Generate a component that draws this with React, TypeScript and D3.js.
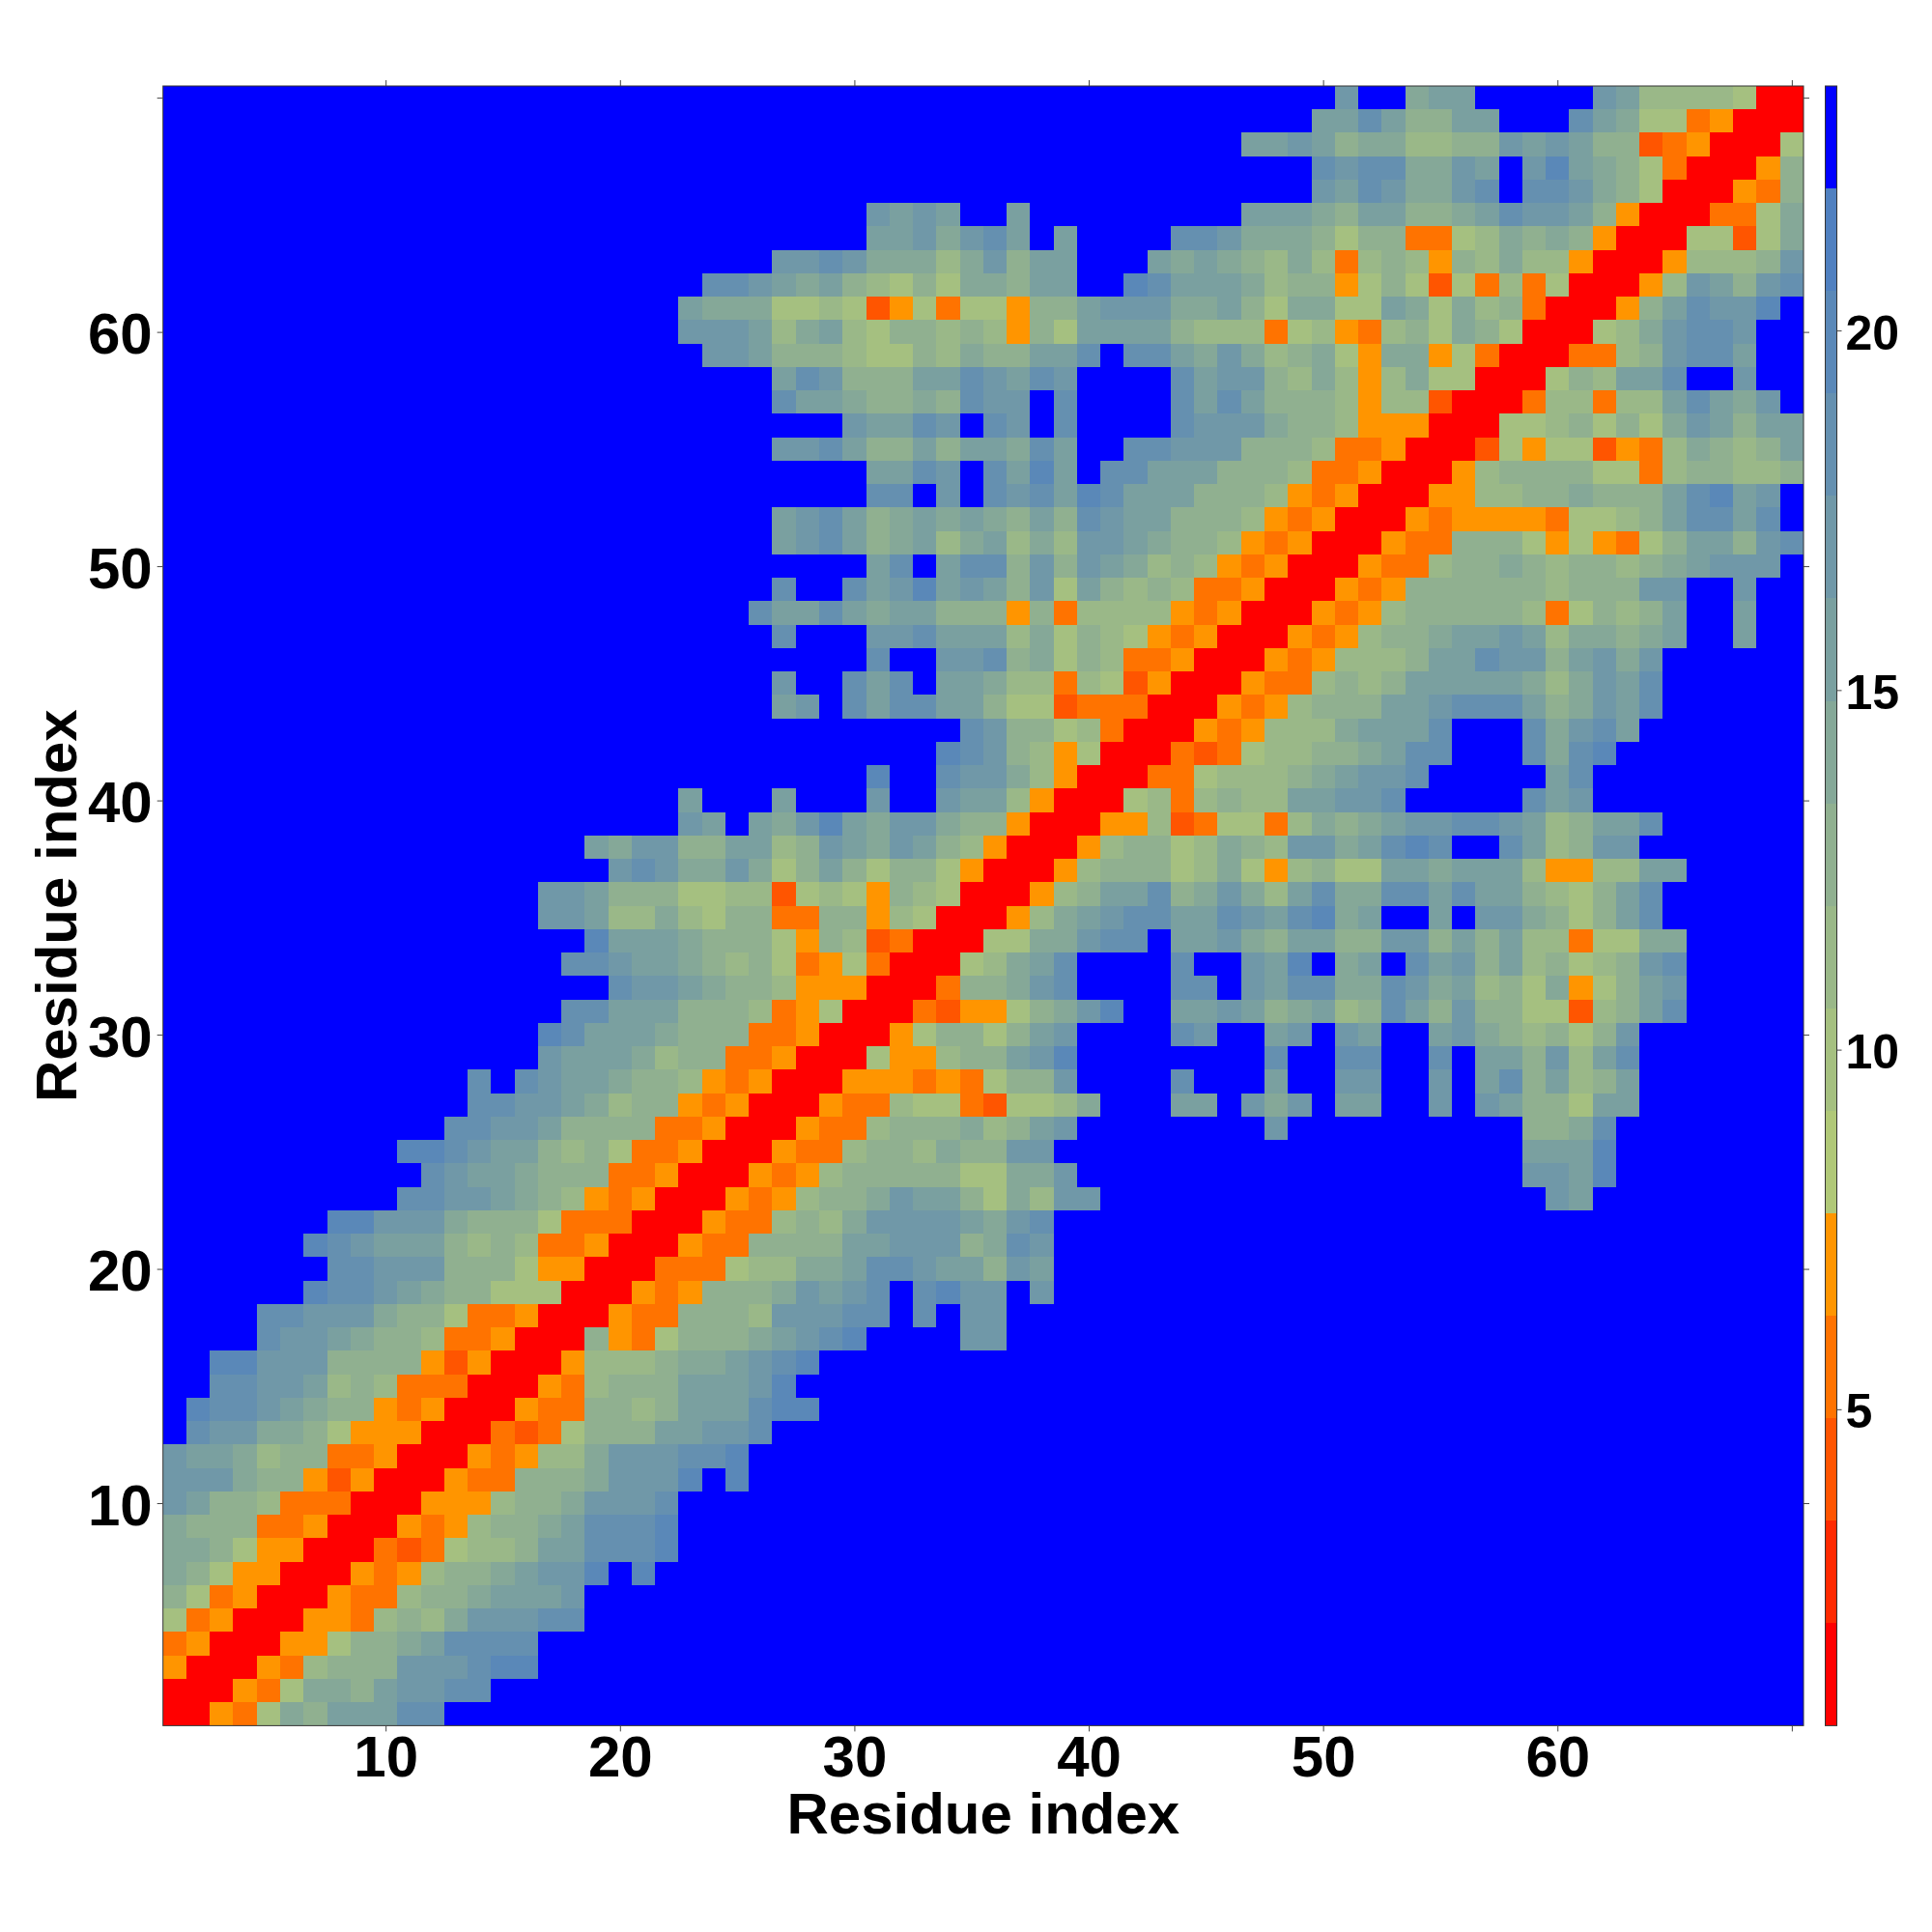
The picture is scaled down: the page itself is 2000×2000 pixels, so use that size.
import React, {useRef, useEffect} from "react";
import * as d3 from "d3";

// one string per residue on the y axis, top row (70) first. each character is
// the colour band of that cell, 0 = closest (red), f = furthest (blue)
const contactRows: string[] = [
  "ffffffffff ffffffffff ffffffffff ffffffffff ffffffffff bff9aaffff fba7777600",
  "ffffffffff ffffffffff ffffffffff ffffffffff fffffffffa aca88aafff ca96634000",
  "ffffffffff ffffffffff ffffffffff ffffffffff ffffffaaba 8997788bab a882340006",
  "ffffffffff ffffffffff ffffffffff ffffffffff fffffffffc bcc99bafbd a986300048",
  "ffffffffff ffffffffff ffffffffff ffffffffff fffffffffb acb99bcfcc b986000438",
  "ffffffffff ffffffffff ffffffffff babaffafff ffffffaaa9 8aa889acbb a840003369",
  "ffffffffff ffffffffff ffffffffff aab9bcafaf fffccb9998 6883367989 8400066269",
  "ffffffffff ffffffffff ffffffbbcb 99979b8aaf ffa9a98797 3787487977 400047778b",
  "ffffffffff ffffffffff fffccba9a8 7686998aaf fdcaaa9788 4686263736 00047ba8bc",
  "ffffffffff ffffffffff ffa9996676 246366488a bbb99a8699 66a9697830 0048acbbdf",
  "ffffffffff ffffffffff ffbbba79a7 688787486a aaa8777367 4378698600 0679bccbff",
  "ffffffffff ffffffffff fffbba8887 6687988aac fcca9b9789 6499463000 3378bccaff",
  "ffffffffff ffffffffff ffffffacb8 88aacbacbf fffcabb879 7479660006 87aacffbff",
  "ffffffffff ffffffffff ffffffcaa9 8898cbbfcf fffcaca888 7477200037 7377aca9bf",
  "ffffffffff ffffffffff fffffffffb aacbfcbfcf fffcbbb988 7444000667 86869ba8aa",
  "ffffffffff ffffffffff ffffffbbca 88a8aa9caf fccbbb8887 3340002646 624379878a",
  "ffffffffff ffffffffff ffffffffff aacbfcadaf ccaaa88873 3400047888 8663788778",
  "ffffffffff ffffffffff ffffffffff ccfbfcbcad caaa888743 4000447788 9888acdabf",
  "ffffffffff ffffffffff ffffffabca 89a9a98a8c baa8887434 0004344443 6678accacf",
  "ffffffffff ffffffffff ffffffabca 89a79a797b ba98874340 0043388864 64368aa8bc",
  "ffffffffff ffffffffff ffffffffff acfacc8b8b a978743400 0433788987 88789abbbf",
  "ffffffffff ffffffffff ffffffcffc abdaba8b6a 8787334000 4348888887 888bbffbff",
  "ffffffffff ffffffffff fffffcaaca 9aa8884837 7774340004 3478888873 6878affaff",
  "ffffffffff ffffffffff ffffffcfff bbcaaa7968 7643400043 47889aaba7 9989affaff",
  "ffffffffff ffffffffff ffffffffff cffbbc8968 7334000434 7778aacbb8 ab9bffffff",
  "ffffffffff ffffffffff ffffffbffc acfaa97737 6240004337 878aaaaa97 9bacffffff",
  "ffffffffff ffffffffff ffffffabfc accaa86623 3300043478 88aabccca8 9bacffffff",
  "ffffffffff ffffffffff ffffffffff ffffcb8867 3000434777 9aaacfffc9 bcafffffff",
  "ffffffffff ffffffffff ffffffffff fffdcb8746 0003236778 89accfffc9 cdffffffff",
  "ffffffffff ffffffffff ffffffffff dffcbb9740 0033677789 abbcfffffa cfffffffff",
  "ffffffffff ffffffffff ffafffafff bffbaa7400 06737877aa bbcfffffca bfffffffff",
  "ffffffffff ffffffffff ffbafa9bda 9bb9884000 4472366379 89abbccba7 8aacffffff",
  "ffffffffff ffffffffa9 bb88aa78ba 9ba8740004 78867987bb 9acdcffca7 8bbfffffff",
  "ffffffffff fffffffffb cb99b968a8 6886400047 8886796478 66aa9aaa74 477aafffff",
  "ffffffffff ffffffbba8 8866772676 4876000478 aac89b97ac 99ccacaa87 68acffffff",
  "ffffffffff ffffffbba7 7976883388 476000479a bccaacbacd 9affafbb98 68acffffff",
  "ffffffffff ffffffffda aa98886487 230006699b ccfaab98aa 88bb8a8a77 36699fffff",
  "ffffffffff fffffffccb aa98786346 3000679acf fffcffbadf 9afcab8a78 678bcfffff",
  "ffffffffff fffffffffc bba9887444 0003889bcf fffccfbacc 99cb9a7869 468abfffff",
  "ffffffffff fffffffcca aa88873460 003244689b dffaaba89a 78ca8b8866 278acfffff",
  "ffffffffff ffffffdcaa a988833400 0468868abf fffcbffabf baffab9878 68bfffffff",
  "ffffffffff ffffffbaaa 9788334000 644788abdf fffffffcff ccffcfaa8b 7acfffffff",
  "ffffffffff fffcfcbaa9 8874340004 44343688bf fffcfffaff bbffbfac8a 78afffffff",
  "ffffffffff fffccbba97 8843400043 3766326679 fffaafb9bf aaffbfba88 6aafffffff",
  "ffffffffff ffccbba888 8334000433 7888978abf fffffffbff ffffffff88 9cffffffff",
  "ffffffffff ddcbaa8786 3340004337 887988bbff ffffffffff ffffffffaa adffffffff",
  "ffffffffff fcbaa98883 3400043478 88886699bf ffffffffff ffffffffbb adffffffff",
  "ffffffffff ccbba98743 4000434788 9baa8697bb ffffffffff fffffffffb afffffffff",
  "fffffffddb bb98886333 0004337879 bbbba9bcff ffffffffff ffffffffff ffffffffff",
  "ffffffdcba aa87873340 004338888a abbb89cbff ffffffffff ffffffffff ffffffffff",
  "fffffffccb bb88864400 033367799a ccbaa8baff ffffffffff ffffffffff ffffffffff",
  "ffffffdccb a988666000 4348889bab cfcdbbfbff ffffffffff ffffffffff ffffffffff",
  "ffffccbbb9 8863340004 338887bbbc cfcfbbffff ffffffffff ffffffffff ffffffffff",
  "ffffcbba98 8733400084 368889abcd ffffbbffff ffffffffff ffffffffff ffffffffff",
  "ffddbbb888 8424000477 7899abcdff ffffffffff ffffffffff ffffffffff ffffffffff",
  "ffccbba787 3330004378 88aaabdfff ffffffffff ffffffffff ffffffffff ffffffffff",
  "fdccba9884 3400043388 78aaacddff ffffffffff ffffffffff ffffffffff ffffffffff",
  "fcbb998644 4000323688 8aabbcffff ffffffffff ffffffffff ffffffffff ffffffffff",
  "baa9788334 000434779b bbccdfffff ffffffffff ffffffffff ffffffffff ffffffffff",
  "bbb9884240 004338889b bbdfdfffff ffffffffff ffffffffff ffffffffff ffffffffff",
  "ba88733300 04447889bb bcffffffff ffffffffff ffffffffff ffffffffff ffffffffff",
  "9888334000 4347889acc cdffffffff ffffffffff ffffffffff ffffffffff ffffffffff",
  "9986440003 236778aacc cdffffffff ffffffffff ffffffffff ffffffffff ffffffffff",
  "9864400043 47889abbdf dfffffffff ffffffffff ffffffffff ffffffffff ffffffffff",
  "8634000433 7889aaabff ffffffffff ffffffffff ffffffffff ffffffffff ffffffffff",
  "6340004437 879bbbccff ffffffffff ffffffffff ffffffffff ffffffffff ffffffffff",
  "3400044688 9accccffff ffffffffff ffffffffff ffffffffff ffffffffff ffffffffff",
  "4000437888 bbbcddffff ffffffffff ffffffffff ffffffffff ffffffffff ffffffffff",
  "000436998a bbccffffff ffffffffff ffffffffff ffffffffff ffffffffff ffffffffff",
  "0043698aaa ccffffffff ffffffffff ffffffffff ffffffffff ffffffffff ffffffffff",
];

const bandColors = [
  "#ff0000", "#ff2a00", "#ff5500", "#ff7300", "#ff9500",
  "#b0c878", "#a5c080", "#9ab888", "#90b090", "#85a898",
  "#7aa0a0", "#7098a8", "#6590b0", "#5a88b8", "#5080c0",
  "#0000ff",
];

const residueTicks = [10, 20, 30, 40, 50, 60, 70];
const colorbarTicks = [5, 10, 15, 20];
const valueDomain = [0.6, 23.4];
const axisLabel = "Residue index";

const FONT = "'Liberation Sans', Arial, sans-serif";
const left = 168.7;
const right = 1867;
const top = 89;
const bottom = 1786.4;
const barLeft = 1889.5;
const barRight = 1901.5;

export default function App() {
  const svgRef = useRef<SVGSVGElement>(null);

  const xScale = d3.scaleLinear().domain([0.5, 70.5]).range([left, right]);
  const yScale = d3.scaleLinear().domain([0.5, 70.5]).range([bottom, top]);
  const barScale = d3.scaleLinear().domain(valueDomain).range([bottom, top]);
  const colorScale = d3.scaleQuantize<string>().domain(valueDomain).range(bandColors);
  const bandValue = (band: number) => {
    const [a, b] = colorScale.invertExtent(bandColors[band]);
    return (a + b) / 2;
  };

  const cells: {x: number; y: number; value: number}[] = [];
  contactRows.forEach((row, r) => {
    row.replace(/ /g, "").split("").forEach((ch, c) => {
      cells.push({x: c + 1, y: 70 - r, value: bandValue(parseInt(ch, 16))});
    });
  });

  useEffect(() => {
    if (!svgRef.current) return;
    const svg = d3.select(svgRef.current);

    const style = (g, withText, size = 60, dy = null) => {
      g.select(".domain").remove();
      g.selectAll("line").attr("stroke", "#444").attr("stroke-width", 1);
      if (withText) {
        const labels = g.selectAll("text")
          .attr("fill", "#000")
          .style("font-family", FONT)
          .style("font-weight", "bold")
          .style("font-size", `${size}px`)
          .text((d) => (d === 70 ? "" : d));
        if (dy) labels.attr("dy", dy);
      } else {
        g.selectAll("text").remove();
      }
    };

    svg.select(".x-bottom")
      .attr("transform", `translate(0,${bottom})`)
      .call(d3.axisBottom(xScale).tickValues(residueTicks).tickSize(6).tickPadding(4))
      .call((g) => style(g, true));
    svg.select(".x-top")
      .attr("transform", `translate(0,${top})`)
      .call(d3.axisTop(xScale).tickValues(residueTicks).tickSize(6))
      .call((g) => style(g, false));
    svg.select(".y-left")
      .attr("transform", `translate(${left},0)`)
      .call(d3.axisLeft(yScale).tickValues(residueTicks).tickSize(6).tickPadding(5))
      .call((g) => style(g, true, 60, "0.37em"));
    svg.select(".y-right")
      .attr("transform", `translate(${right},0)`)
      .call(d3.axisRight(yScale).tickValues(residueTicks).tickSize(6))
      .call((g) => style(g, false));
    svg.select(".bar-axis")
      .attr("transform", `translate(${barRight},0)`)
      .call(d3.axisRight(barScale).tickValues(colorbarTicks).tickSize(5).tickPadding(4))
      .call((g) => style(g, true, 50, "0.38em"));
  }, []);

  const bandSteps = bandColors.map((color) => ({color, extent: colorScale.invertExtent(color)}));

  return (
    <svg
      ref={svgRef}
      width={2000}
      height={2000}
      style={{position: "absolute", left: 0, top: 0, background: "#fff"}}
    >
      <g shapeRendering="crispEdges">
        {cells.map((d) => (
          <rect
            key={`${d.x}-${d.y}`}
            x={xScale(d.x - 0.5)}
            y={yScale(d.y + 0.5)}
            width={xScale(d.x + 0.5) - xScale(d.x - 0.5)}
            height={yScale(d.y - 0.5) - yScale(d.y + 0.5)}
            fill={colorScale(d.value)}
          />
        ))}
        {bandSteps.map((b) => (
          <rect
            key={b.color}
            x={barLeft}
            y={barScale(b.extent[1])}
            width={barRight - barLeft}
            height={barScale(b.extent[0]) - barScale(b.extent[1])}
            fill={b.color}
          />
        ))}
      </g>
      <rect x={left} y={top} width={right - left} height={bottom - top} fill="none" stroke="#333" strokeWidth={1} />
      <rect x={barLeft} y={top} width={barRight - barLeft} height={bottom - top} fill="none" stroke="#333" strokeWidth={1} />
      <g className="x-bottom" />
      <g className="x-top" />
      <g className="y-left" />
      <g className="y-right" />
      <g className="bar-axis" />
      <text
        x={(left + right) / 2}
        y={1898}
        textAnchor="middle"
        fontFamily={FONT}
        fontWeight="bold"
        fontSize={60}
      >
        {axisLabel}
      </text>
      <text
        transform={`translate(79,${(top + bottom) / 2}) rotate(-90)`}
        textAnchor="middle"
        fontFamily={FONT}
        fontWeight="bold"
        fontSize={60}
      >
        {axisLabel}
      </text>
    </svg>
  );
}
